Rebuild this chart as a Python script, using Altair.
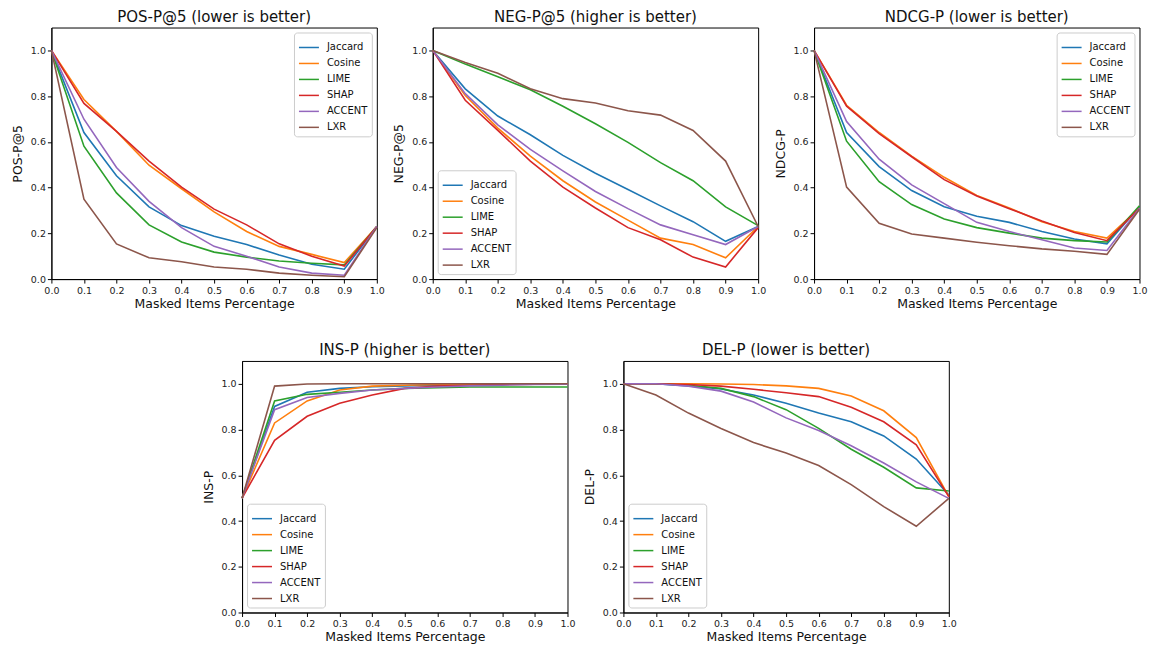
import altair as alt
import pandas as pd

X = [0.0, 0.1, 0.2, 0.3, 0.4, 0.5, 0.6, 0.7, 0.8, 0.9, 1.0]
METHODS = ["Jaccard", "Cosine", "LIME", "SHAP", "ACCENT", "LXR"]
COLORS = ["#1f77b4", "#ff7f0e", "#2ca02c", "#d62728", "#9467bd", "#8c564b"]
X_TITLE = "Masked Items Percentage"

pos_p5 = {
    "Jaccard": [1.0, 0.641, 0.452, 0.316, 0.234, 0.187, 0.151, 0.105, 0.065, 0.043, 0.23],
    "Cosine":  [1.0, 0.785, 0.646, 0.498, 0.395, 0.294, 0.208, 0.143, 0.108, 0.072, 0.23],
    "LIME":    [1.0, 0.581, 0.377, 0.237, 0.162, 0.118, 0.096, 0.079, 0.069, 0.062, 0.23],
    "SHAP":    [1.0, 0.768, 0.646, 0.516, 0.402, 0.306, 0.237, 0.154, 0.100, 0.057, 0.23],
    "ACCENT":  [1.0, 0.699, 0.488, 0.340, 0.225, 0.143, 0.100, 0.053, 0.026, 0.017, 0.23],
    "LXR":     [1.0, 0.349, 0.154, 0.093, 0.076, 0.053, 0.043, 0.026, 0.017, 0.010, 0.225],
}
neg_p5 = {
    "Jaccard": [1.0, 0.832, 0.713, 0.631, 0.541, 0.463, 0.392, 0.320, 0.251, 0.165, 0.23],
    "Cosine":  [1.0, 0.803, 0.660, 0.538, 0.430, 0.337, 0.258, 0.179, 0.151, 0.093, 0.23],
    "LIME":    [1.0, 0.940, 0.885, 0.828, 0.756, 0.679, 0.598, 0.509, 0.430, 0.316, 0.234],
    "SHAP":    [1.0, 0.782, 0.650, 0.516, 0.402, 0.311, 0.225, 0.172, 0.096, 0.053, 0.225],
    "ACCENT":  [1.0, 0.811, 0.674, 0.567, 0.473, 0.383, 0.308, 0.237, 0.194, 0.151, 0.23],
    "LXR":     [1.0, 0.947, 0.900, 0.832, 0.789, 0.770, 0.736, 0.717, 0.650, 0.516, 0.23],
}
ndcg_p = {
    "Jaccard": [1.0, 0.641, 0.492, 0.387, 0.316, 0.275, 0.248, 0.208, 0.175, 0.154, 0.316],
    "Cosine":  [1.0, 0.760, 0.641, 0.538, 0.445, 0.366, 0.311, 0.251, 0.208, 0.179, 0.31],
    "LIME":    [1.0, 0.603, 0.426, 0.326, 0.263, 0.225, 0.201, 0.179, 0.168, 0.162, 0.32],
    "SHAP":    [1.0, 0.756, 0.636, 0.535, 0.435, 0.363, 0.308, 0.254, 0.204, 0.168, 0.31],
    "ACCENT":  [1.0, 0.689, 0.524, 0.412, 0.330, 0.248, 0.208, 0.172, 0.136, 0.125, 0.31],
    "LXR":     [1.0, 0.402, 0.244, 0.197, 0.179, 0.161, 0.146, 0.132, 0.122, 0.108, 0.305],
}
ins_p = {
    "Jaccard": [0.5, 0.901, 0.963, 0.980, 0.987, 0.991, 0.994, 0.997, 0.999, 1.0, 1.0],
    "Cosine":  [0.5, 0.829, 0.925, 0.973, 0.990, 0.994, 0.997, 0.998, 0.999, 1.0, 1.0],
    "LIME":    [0.5, 0.925, 0.954, 0.963, 0.973, 0.980, 0.983, 0.986, 0.986, 0.986, 0.986],
    "SHAP":    [0.5, 0.753, 0.858, 0.915, 0.951, 0.980, 0.990, 0.994, 0.997, 0.998, 1.0],
    "ACCENT":  [0.5, 0.887, 0.940, 0.958, 0.973, 0.980, 0.986, 0.991, 0.994, 0.997, 0.998],
    "LXR":     [0.5, 0.990, 0.999, 1.0, 1.0, 1.0, 1.0, 1.0, 1.0, 1.0, 1.0],
}
del_p = {
    "Jaccard": [1.0, 1.0, 0.991, 0.977, 0.951, 0.915, 0.872, 0.834, 0.772, 0.671, 0.514],
    "Cosine":  [1.0, 1.0, 1.0, 0.999, 0.997, 0.991, 0.980, 0.947, 0.882, 0.765, 0.507],
    "LIME":    [1.0, 1.0, 0.994, 0.980, 0.944, 0.887, 0.805, 0.714, 0.635, 0.545, 0.531],
    "SHAP":    [1.0, 1.0, 0.997, 0.990, 0.976, 0.961, 0.944, 0.897, 0.834, 0.733, 0.507],
    "ACCENT":  [1.0, 1.0, 0.990, 0.968, 0.920, 0.851, 0.796, 0.729, 0.654, 0.571, 0.499],
    "LXR":     [1.0, 0.951, 0.872, 0.805, 0.743, 0.697, 0.643, 0.559, 0.463, 0.377, 0.499],
}

FONT = "DejaVu Sans"
W, H = 326, 252


def panel(title, ytitle, data, orient):
    rows = []
    for m in METHODS:
        for x, v in zip(X, data[m]):
            rows.append({"x": x, "y": v, "method": m, "k": METHODS.index(m)})
    df = pd.DataFrame(rows)
    return (
        alt.Chart(df)
        .mark_line(strokeWidth=1.6)
        .encode(
            x=alt.X(
                "x:Q",
                scale=alt.Scale(domain=[0, 1], nice=False, zero=False),
                axis=alt.Axis(values=X, format=".1f", title=X_TITLE),
            ),
            y=alt.Y(
                "y:Q",
                scale=alt.Scale(domain=[0, 1.1], nice=False, zero=False),
                axis=alt.Axis(values=[0, 0.2, 0.4, 0.6, 0.8, 1.0], format=".1f", title=ytitle),
            ),
            color=alt.Color(
                "method:N",
                scale=alt.Scale(domain=METHODS, range=COLORS),
                legend=alt.Legend(title=None, orient=orient),
            ),
            detail="k:N",
        )
        .properties(
            width=W,
            height=H,
            title=alt.TitleParams(title, fontSize=15, font=FONT, fontWeight="normal", offset=3, color="#111"),
        )
    )


p1 = panel("POS-P@5 (lower is better)", "POS-P@5", pos_p5, "top-right")
p2 = panel("NEG-P@5 (higher is better)", "NEG-P@5", neg_p5, "bottom-left")
p3 = panel("NDCG-P (lower is better)", "NDCG-P", ndcg_p, "top-right")
p4 = panel("INS-P (higher is better)", "INS-P", ins_p, "bottom-left")
p5 = panel("DEL-P (lower is better)", "DEL-P", del_p, "bottom-left")

top = alt.hconcat(p1, p2, p3, spacing=6).resolve_scale(color="independent").resolve_legend(color="independent")
bottom = alt.hconcat(p4, p5, spacing=6).resolve_scale(color="independent").resolve_legend(color="independent")

chart = (
    alt.vconcat(top, bottom, spacing=31, center=True)
    .resolve_scale(color="independent")
    .resolve_legend(color="independent")
    .properties(padding={"left": 2, "top": 0, "right": 0, "bottom": 0})
    .configure_view(stroke="black", strokeWidth=1)
    .configure_title(fontWeight="normal")
    .configure_axis(
        grid=False,
        domainColor="black",
        domainWidth=1,
        tickColor="black",
        tickSize=4,
        tickWidth=1,
        labelFont=FONT,
        labelFontSize=9.5,
        labelColor="#222",
        labelPadding=2,
        labelFlush=False,
        labelOverlap=False,
        titleFont=FONT,
        titleFontSize=12.5,
        titleFontWeight="normal",
        titleColor="#111",
    )
    .configure_axisX(titlePadding=3)
    .configure_axisY(titlePadding=6)
    .configure_legend(
        symbolType="stroke",
        symbolStrokeWidth=1.5,
        symbolSize=400,
        labelFont=FONT,
        labelFontSize=10,
        labelColor="#111",
        labelOffset=7,
        padding=4,
        rowPadding=0,
        offset=5,
        strokeColor="#cccccc",
        fillColor="white",
        cornerRadius=3,
    )
)

chart.save("out.html", embed_options={"renderer": "svg", "actions": False})
